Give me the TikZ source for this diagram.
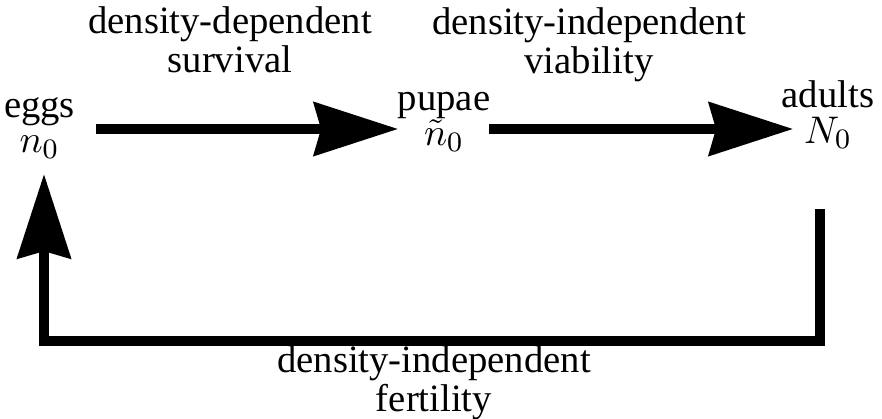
\documentclass[tikz,border=0pt]{standalone}
\usepackage{fontspec}
\setmainfont{Liberation Serif}
\usetikzlibrary{arrows.meta,calc}
\begin{document}
\begin{tikzpicture}[x=0.01cm, y=-0.01cm, font=\fontsize{11}{10}\selectfont,
    stage/.style={align=center, inner sep=0pt},
    lbl/.style={align=center, inner sep=0pt},
    flow/.style={line width=2.7pt, -{Stealth[length=0.84cm, width=0.53cm, inset=0.07cm]}}]
  \useasboundingbox (0,0) rectangle (882,419);
  % life stages
  \node[stage] (eggs) at (39.5,128) {eggs\\$n_0$};
  \node[stage] (pupae) at (444,122) {pupae\\$\tilde{n}_0$};
  \node[stage] (adults) at (828,115) {adults\\$N_0$};
  % transitions
  \node[lbl] (surv) at (230,40) {density-dependent\\survival};
  \node[lbl] (viab) at (589,45) {density-independent\\viability};
  \node[lbl] (fert) at (434,383) {density-independent\\fertility};
  \draw[flow] ($(eggs.east)+(20,1)$) -- ($(pupae.west |- eggs.east)+(1,1)$);
  \draw[flow] ($(pupae.east |- eggs.east)+(-2,1)$) -- ($(adults.west |- eggs.east)+(12,1)$);
  \draw[flow] ($(adults.south)+(-8,59)$) |- ($(eggs.south)+(4.5,182)$)
    -- ($(eggs.south)+(4.5,15)$);
\end{tikzpicture}
\end{document}
